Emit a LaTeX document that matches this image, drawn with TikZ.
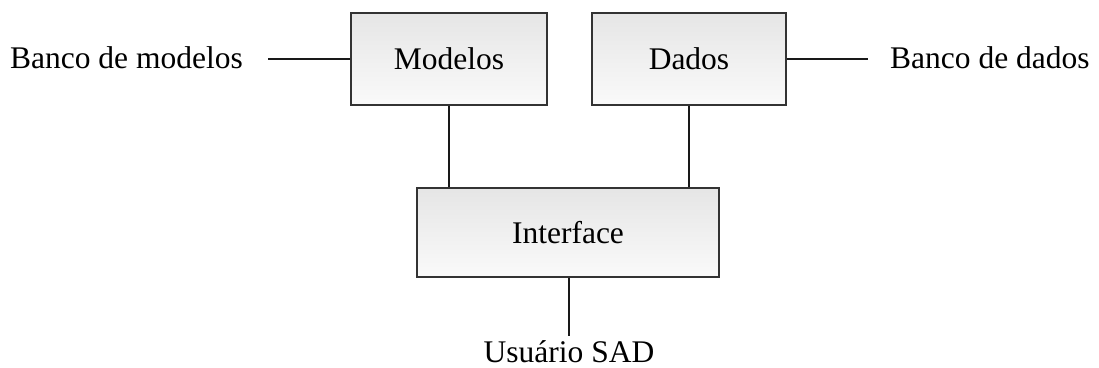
\documentclass[tikz,border=0pt]{standalone}
\usepackage{fontspec}
\setmainfont{Liberation Serif}
\begin{document}
\begin{tikzpicture}[x=1pt,y=-1pt,
  font=\fontsize{31.5}{36}\selectfont,
  block/.style={draw=black!80, line width=1.5pt, top color=black!10, bottom color=black!2,
    inner sep=0pt, anchor=center},
  wire/.style={draw=black!90, line width=1.5pt},
  label/.style={inner ysep=0pt}]
\useasboundingbox (0,0) rectangle (1099,367);

% component blocks
\node[block, minimum width=196pt, minimum height=92pt] (mod) at (449,59) {Modelos};
\node[block, minimum width=194pt, minimum height=92pt] (dad) at (689,59) {Dados};
\node[block, minimum width=302pt, minimum height=89pt] (ifc) at (568,232.5) {Interface};

% outer labels
\node[label, anchor=base east, inner xsep=25pt] (bm) at (268,68) {Banco de modelos};
\node[label, anchor=base west, inner xsep=22pt] (bd) at (868,68) {Banco de dados};
\node[anchor=base, inner xsep=0pt, inner ysep=3.5pt] (usr) at (569,362) {Usuário SAD};

% connectors
\draw[wire] (mod.west) -- (mod.west -| bm.east);
\draw[wire] (dad.east) -- (dad.east -| bd.west);
\draw[wire] (mod.south) -- (mod.south |- ifc.north);
\draw[wire] (dad.south) -- (dad.south |- ifc.north);
\draw[wire] (usr.north |- ifc.south) -- (usr.north);
\end{tikzpicture}
\end{document}
